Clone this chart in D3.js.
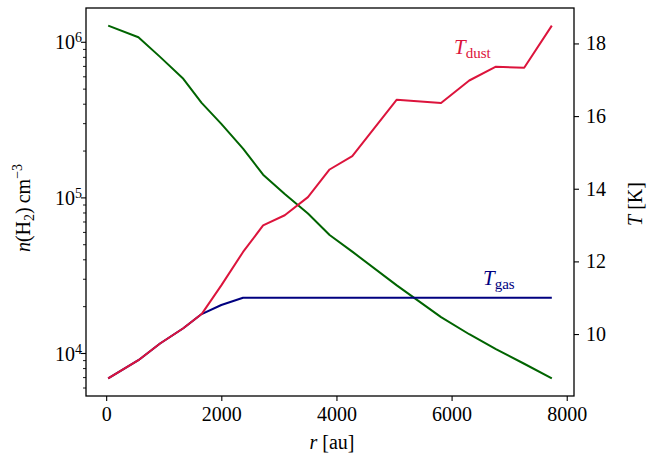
<!DOCTYPE html>
<html>
<head>
<meta charset="utf-8">
<script src="https://cdn.jsdelivr.net/npm/d3@7"></script>
<style>
  html, body { margin: 0; padding: 0; background: #fff; }
  svg { display: block; }
  text { font-family: "Liberation Serif", "DejaVu Serif", serif; fill: #000; }
</style>
</head>
<body>
<svg id="chart" width="649" height="458"></svg>
<script>
// ---- data ----
const radius = [35, 560, 936, 1340, 1658, 2000, 2378, 2726, 3102, 3505, 3881, 4275, 5048, 5817, 6307, 6770, 7261, 7741];
const densityH2 = [1.27e6, 1.07e6, 8.0e5, 5.78e5, 4.05e5, 2.97e5, 2.06e5, 1.40e5, 1.05e5, 7.87e4, 5.73e4, 4.48e4, 2.72e4, 1.70e4, 1.32e4, 1.06e4, 8.53e3, 6.87e3];
const tempDust = [8.78, 9.28, 9.74, 10.16, 10.55, 11.34, 12.26, 12.99, 13.27, 13.77, 14.53, 14.90, 16.45, 16.36, 16.98, 17.36, 17.33, 18.49];
const tempGas  = [8.78, 9.28, 9.74, 10.16, 10.55, 10.80, 11.0, 11.0, 11.0, 11.0, 11.0, 11.0, 11.0, 11.0, 11.0, 11.0, 11.0, 11.0];
const xTicks = [0, 2000, 4000, 6000, 8000];
const nTicksMajor = [1e4, 1e5, 1e6];
const tTicks = [10, 12, 14, 16, 18];

// ---- layout ----
const svg = d3.select("#chart");
const L = 86, R = 574, T = 8, B = 396;
const FS = 20;

function padExtent(lo, hi, m) { const d = hi - lo; return [lo - m * d, hi + m * d]; }

const xDom = padExtent(d3.min(radius), d3.max(radius), 0.05);
const x = d3.scaleLinear().domain(xDom).range([L, R]);

const lnExt = padExtent(Math.log10(d3.min(densityH2)), Math.log10(d3.max(densityH2)), 0.05);
const yN = d3.scaleLog().domain([Math.pow(10, lnExt[0]), Math.pow(10, lnExt[1])]).range([B, T]);

const tAll = tempDust.concat(tempGas);
const yT = d3.scaleLinear().domain(padExtent(d3.min(tAll), d3.max(tAll), 0.05)).range([B, T]);

// ---- lines ----
const g = svg.append("g");
const lineN = d3.line().x((d, i) => x(radius[i])).y(d => yN(d));
const lineT = d3.line().x((d, i) => x(radius[i])).y(d => yT(d));

g.append("path").attr("d", lineN(densityH2)).attr("fill", "none").attr("stroke", "#006400").attr("stroke-width", 2).attr("stroke-linejoin", "round");
g.append("path").attr("d", lineT(tempGas)).attr("fill", "none").attr("stroke", "#000080").attr("stroke-width", 2).attr("stroke-linejoin", "round");
g.append("path").attr("d", lineT(tempDust)).attr("fill", "none").attr("stroke", "#DC143C").attr("stroke-width", 2).attr("stroke-linejoin", "round");

// ---- frame ----
svg.append("rect").attr("x", L).attr("y", T).attr("width", R - L).attr("height", B - T)
  .attr("fill", "none").attr("stroke", "#000").attr("stroke-width", 1.3);

// ---- x axis ----
const xAxis = svg.append("g").attr("transform", `translate(0,${B})`)
  .call(d3.axisBottom(x).tickValues(xTicks).tickSize(5).tickPadding(6).tickFormat(d3.format("d")));
xAxis.select(".domain").remove();
xAxis.selectAll("line").attr("stroke-width", 1.1);
xAxis.selectAll("text").attr("font-size", FS).attr("font-family", "Liberation Serif").attr("dy", "0.71em");

// ---- left log axis ----
const minor = [];
for (let e = 3; e <= 6; e++) for (let k = 2; k <= 9; k++) {
  const v = k * Math.pow(10, e);
  if (v >= yN.domain()[0] && v <= yN.domain()[1]) minor.push(v);
}
const yMinor = svg.append("g").attr("transform", `translate(${L},0)`)
  .call(d3.axisLeft(yN).tickValues(minor).tickSize(3).tickFormat(""));
yMinor.select(".domain").remove();
yMinor.selectAll("line").attr("stroke-width", 0.9);

const yMajor = svg.append("g").attr("transform", `translate(${L},0)`)
  .call(d3.axisLeft(yN).tickValues(nTicksMajor).tickSize(5).tickFormat(""));
yMajor.select(".domain").remove();
yMajor.selectAll("line").attr("stroke-width", 1.1);
yMajor.selectAll(".tick").each(function(d) {
  const t = d3.select(this).append("text").attr("x", -4).attr("y", 0).attr("dy", "0.36em")
    .attr("text-anchor", "end").attr("font-size", FS);
  t.append("tspan").text("10");
  t.append("tspan").attr("font-size", 14).attr("dy", "-0.5em").text(String(Math.round(Math.log10(d))));
});

// ---- right T axis ----
const yRight = svg.append("g").attr("transform", `translate(${R},0)`)
  .call(d3.axisRight(yT).tickValues(tTicks).tickSize(5).tickPadding(7));
yRight.select(".domain").remove();
yRight.selectAll("line").attr("stroke-width", 1.1);
yRight.selectAll("text").attr("font-size", FS).attr("font-family", "Liberation Serif");

// ---- axis labels ----
const xl = svg.append("text").attr("x", (L + R) / 2 + 2).attr("y", 449).attr("text-anchor", "middle").attr("font-size", FS);
xl.append("tspan").attr("font-style", "italic").text("r");
xl.append("tspan").text(" [au]");

const yl = svg.append("text").attr("transform", `translate(30,208) rotate(-90)`).attr("text-anchor", "middle").attr("font-size", FS);
yl.append("tspan").attr("font-style", "italic").text("n");
yl.append("tspan").text("(H");
yl.append("tspan").attr("font-size", 14).attr("dy", 4).text("2");
yl.append("tspan").attr("dy", -4).text(")\u2009cm");
yl.append("tspan").attr("font-size", 14).attr("dy", -8).text("\u22123");

const tl = svg.append("text").attr("transform", `translate(642,204) rotate(-90)`).attr("text-anchor", "middle").attr("font-size", FS);
tl.append("tspan").attr("font-style", "italic").text("T");
tl.append("tspan").text(" [K]");

// ---- curve labels ----
const dl = svg.append("text").attr("x", 454).attr("y", 54).attr("font-size", 21).style("fill", "#DC143C");
dl.append("tspan").attr("font-style", "italic").text("T");
dl.append("tspan").attr("font-size", 15).attr("dy", 3.5).text("dust");

const gl = svg.append("text").attr("x", 483).attr("y", 285).attr("font-size", 21).style("fill", "#000080");
gl.append("tspan").attr("font-style", "italic").text("T");
gl.append("tspan").attr("font-size", 15).attr("dy", 3.5).text("gas");
</script>
</body>
</html>
